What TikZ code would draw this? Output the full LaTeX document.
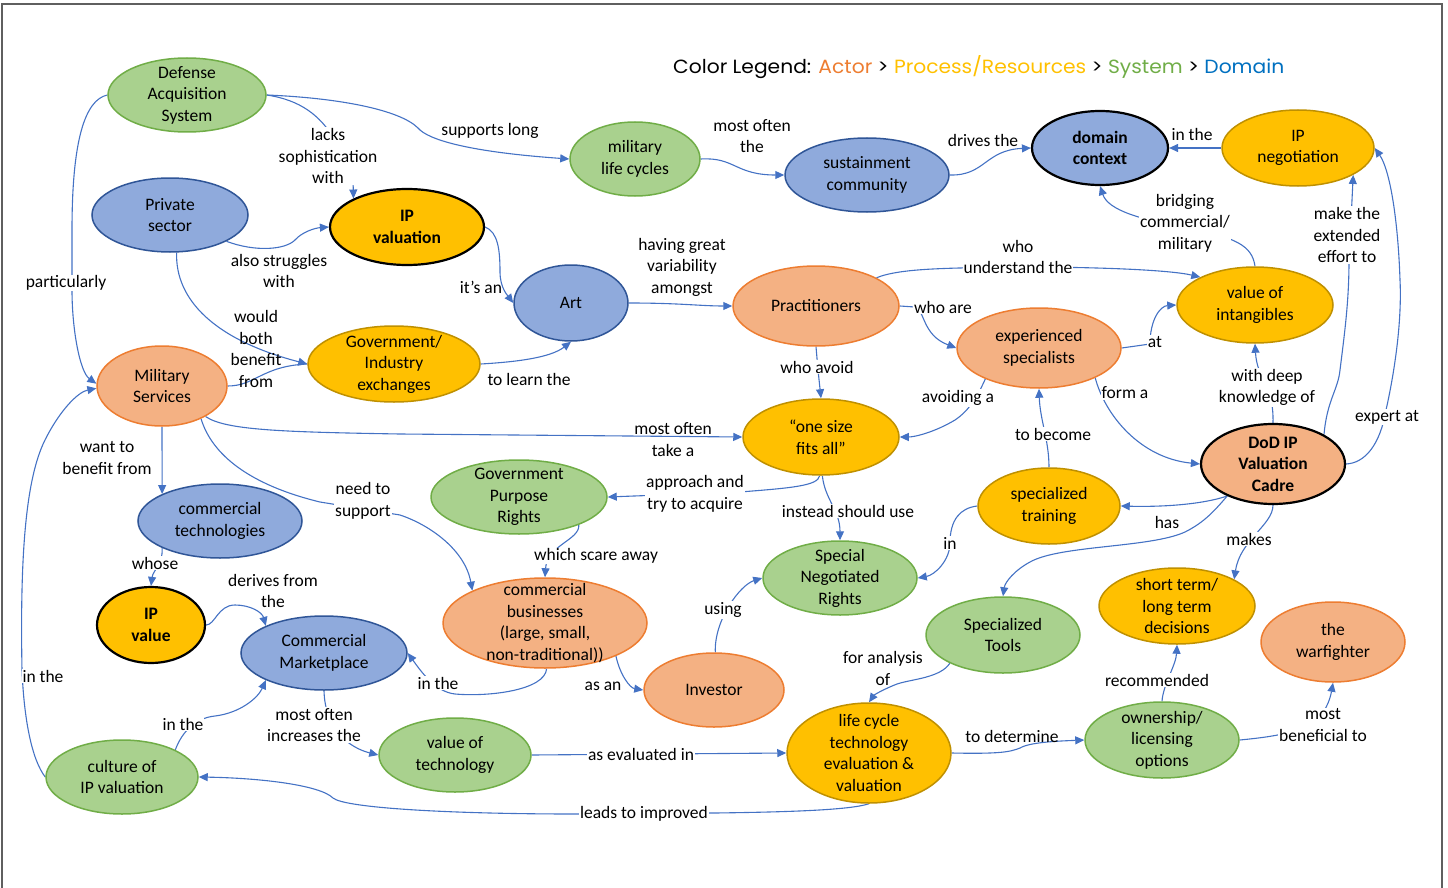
\documentclass[tikz,border=0pt]{standalone}
\usepackage{fontspec}
\setmainfont{Carlito}
\newfontfamily\legfont{Poppins}
\usetikzlibrary{shapes.geometric,arrows.meta,calc}
\definecolor{gfill}{HTML}{A9D18E}
\definecolor{gdraw}{HTML}{70AD47}
\definecolor{bfill}{HTML}{8FAADC}
\definecolor{bdraw}{HTML}{2F5597}
\definecolor{ofill}{HTML}{F4B183}
\definecolor{odraw}{HTML}{ED7D31}
\definecolor{yfill}{HTML}{FFC000}
\definecolor{ydraw}{HTML}{BF9000}
\definecolor{eblue}{HTML}{4472C4}
\definecolor{lorange}{HTML}{ED7D31}
\definecolor{lyellow}{HTML}{FFC000}
\definecolor{lgreen}{HTML}{70AD47}
\definecolor{lblue}{HTML}{0070C0}
\definecolor{framecol}{HTML}{5F5F5F}
\pgfdeclarelayer{background}
\pgfsetlayers{background,main}
\newcommand\mkell[7]{%
  \node[ellipse, #6, minimum width=#4*2pt, minimum height=#5*2pt, inner sep=0pt] (#1) at (#2,#3) {};
  \node[ntxt] (#1-t) at (#1.center) {#7};
}
\newcommand\mkellb[7]{%
  \node[ellipse, #6, minimum width=#4*2pt, minimum height=#5*2pt, inner sep=0pt] (#1) at (#2,#3) {};
  \node[ntxtb] (#1-t) at (#1.center) {#7};
}
\begin{document}
\begin{tikzpicture}[x=1pt,y=-1pt,
  ntxt/.style={font=\fontsize{17.5}{21.5}\selectfont, align=center, inner sep=0pt},
  ntxtb/.style={font=\fontsize{17.5}{21.5}\selectfont\bfseries, align=center, inner sep=0pt},
  lbl/.style={font=\fontsize{17.5}{21.5}\selectfont, align=center, inner sep=1pt},
  lblw/.style={lbl, fill=white},
  cgreen/.style={draw=gdraw, fill=gfill, line width=1.5pt},
  cblue/.style={draw=bdraw, fill=bfill, line width=1.5pt},
  corange/.style={draw=odraw, fill=ofill, line width=1.5pt},
  cyellow/.style={draw=ydraw, fill=yfill, line width=1.5pt},
  kyellow/.style={draw=black, fill=yfill, line width=2.2pt},
  kblue/.style={draw=black, fill=bfill, line width=2.2pt},
  korange/.style={draw=black, fill=ofill, line width=2.2pt},
  edge/.style={draw=eblue, line width=1.1pt},
  arr/.style={edge, -{Triangle[length=9pt,width=8pt]}}
]
\useasboundingbox (0,0) rectangle (1448,888);
\draw[framecol, line width=2.5pt] (2,888) -- (2,4) -- (1442,4) -- (1442,888);

\node[anchor=base west, inner sep=0pt] (legend) at (673,74) {\resizebox{611pt}{18pt}{\legfont Color Legend: \textcolor{lorange}{Actor} > \textcolor{lyellow}{Process/Resources} > \textcolor{lgreen}{System} > \textcolor{lblue}{Domain}}};

\mkell{das}{187}{95}{79}{37}{cgreen}{Defense\\Acquisition\\System}
\mkell{ps}{170}{215}{78}{37}{cblue}{Private\\sector}
\mkellb{ipv}{407}{227}{77}{38}{kyellow}{IP\\valuation}
\mkell{mlc}{635}{159}{65}{37}{cgreen}{military\\life cycles}
\mkell{sc}{867}{175}{82}{37}{cblue}{sustainment\\community}
\mkellb{dc}{1100}{148}{68}{37}{kblue}{domain\\context}
\mkell{ipn}{1298}{148}{76}{38}{cyellow}{IP\\negotiation}
\mkell{art}{571}{303}{57}{38}{cblue}{Art}
\mkell{pr}{816}{306}{83}{40}{corange}{Practitioners}
\mkell{voi}{1255}{305}{78}{38}{cyellow}{value of\\intangibles}
\mkell{es}{1039}{348}{82}{40}{corange}{experienced\\specialists}
\mkell{gie}{394}{364}{86}{38}{cyellow}{Government/\\Industry\\exchanges}
\mkell{ms}{162}{386}{65}{40}{corange}{Military\\Services}
\mkell{osfa}{821}{437}{78}{38}{cyellow}{“one size\\fits all”}
\mkellb{cad}{1273}{464}{72}{40}{korange}{DoD IP\\Valuation\\Cadre}
\mkell{st}{1049}{506}{71}{38}{cyellow}{specialized\\training}
\mkell{gpr}{519}{497}{88}{37}{cgreen}{Government\\Purpose\\Rights}
\mkell{ct}{220}{521}{82}{37}{cblue}{commercial\\technologies}
\mkell{snr}{840}{578}{77}{37}{cgreen}{Special\\Negotiated\\Rights}
\mkell{cb}{545}{623}{102}{45}{corange}{commercial\\businesses\\(large, small,\\non-traditional))}
\mkellb{ipvv}{151}{625}{54}{38}{kyellow}{IP\\value}
\mkell{cm}{324}{653}{83}{37}{cblue}{Commercial\\Marketplace}
\mkell{stl}{1177}{606}{78}{38}{cyellow}{short term/\\long term\\decisions}
\mkell{sto}{1003}{635}{77}{38}{cgreen}{Specialized\\Tools}
\mkell{tw}{1333}{642}{72}{40}{corange}{the\\warfighter}
\mkell{inv}{714}{690}{70}{37}{corange}{Investor}
\mkell{olo}{1162}{740}{77}{38}{cgreen}{ownership/\\licensing\\options}
\mkell{lcte}{869}{753}{82}{50}{cyellow}{life cycle\\technology\\evaluation \&\\valuation}
\mkell{vot}{455}{755}{76}{37}{cgreen}{value of\\technology}
\mkell{cipv}{122}{777}{76}{37}{cgreen}{culture of\\IP valuation}

\node[lbl] (l1) at (490,131) {supports long};
\node[lblw] (l2) at (328,156) {lacks\\sophistication\\with};
\node[lblw] (l3) at (66,283) {particularly};
\node[lbl] (l4) at (279,271) {also struggles\\with};
\node[lbl] (l5) at (256,349) {would\\both\\benefit\\from};
\node[lbl] (l7) at (481,287) {it’s an};
\node[lbl] (l8) at (529,379) {to learn the};
\node[lbl] (l9) at (682,267) {having great\\variability\\amongst};
\node[lbl] (l10) at (752,136) {most often\\the};
\node[lbl] (l11) at (983,140) {drives the};
\node[lbl] (l12) at (1192,134) {in the};
\node[lblw] (l13) at (1185,223) {bridging\\commercial/\\military};
\node[lblw] (l14) at (1018,257) {who\\understand the};
\node[lblw] (l15) at (943,307) {who are};
\node[lblw] (l16) at (1155,342) {at};
\node[lblw] (l17) at (817,367) {who avoid};
\node[lblw] (l18) at (958,398) {avoiding a};
\node[lbl] (l19) at (673,439.5) {most often\\take a};
\node[lbl] (l20) at (107,458) {want to\\benefit from};
\node[lblw] (l21) at (363,501) {need to\\support};
\node[lblw] (l22) at (695,494) {approach and\\try to acquire};
\node[lblw] (l23) at (848,511) {instead should use};
\node[lblw] (l24) at (596,556) {which scare away};
\node[lblw] (l25) at (155,563) {whose};
\node[lbl] (l26) at (273,591) {derives from\\the};
\node[lblw] (l27) at (438,683) {in the};
\node[lbl] (l28) at (603,686) {as an};
\node[lblw] (l29) at (723,610) {using};
\node[lblw] (l30) at (950,543) {in};
\node[lblw] (l31) at (1053,434) {to become};
\node[lblw] (l32) at (1125,393) {form a};
\node[lblw] (l33) at (1267,387.5) {with deep\\knowledge of};
\node[lblw] (l34) at (1347,235) {make the\\extended\\effort to};
\node[lblw] (l35) at (1387,417) {expert at};
\node[lblw] (l36) at (1167,522) {has};
\node[lblw] (l38) at (1249,539) {makes};
\node[lbl] (l39) at (883,668.5) {for analysis\\of};
\node[lblw] (l40) at (641,754) {as evaluated in};
\node[lblw] (l41) at (314,725) {most often\\increases the};
\node[lblw] (l42) at (183,724) {in the};
\node[lblw] (l43) at (43,676) {in the};
\node[lblw] (l44) at (644,814) {leads to improved};
\node[lbl] (l45) at (1012,736) {to determine};
\node[lblw] (l46) at (1157,680) {recommended};
\node[lblw] (l47) at (1323,725) {most\\beneficial to};

\begin{pgfonlayer}{background}
\draw[arr] (das.east) .. controls (340,98) and (400,110) .. (418,128) .. controls (428,140) and (470,152) .. (mlc.west);
\draw[arr] (das.east) .. controls (300,100) and (320,115) .. (335,140) -- (353,178) -- (ipv.152);
\draw[arr] (das.west) .. controls (85,100) and (72,140) .. (72,230) -- (72,290) .. controls (72,330) and (80,372) .. (ms.178);
\draw[arr] (ps.335) .. controls (255,252) and (285,250) .. (295,240) .. controls (302,232) and (315,228) .. (ipv.west);
\draw[arr] (ps.280) .. controls (175,300) and (215,340) .. (gie.west);
\draw[edge] (ms.east) .. controls (255,386) and (262,366) .. (gie.west);
\draw[arr] (ipv.east) .. controls (498,232) and (500,250) .. (500,272) .. controls (500,288) and (508,296) .. (art.west);
\draw[arr] (gie.east) .. controls (515,362) and (550,358) .. (art.south);
\draw[arr] (art.east) .. controls (680,303) and (700,306) .. (pr.west);
\draw[arr] (mlc.east) .. controls (735,157) and (735,175) .. (sc.west);
\draw[arr] (sc.east) .. controls (985,176) and (985,150) .. (dc.west);
\draw[arr] (ipn.west) -- (dc.east);
\draw[arr] (voi.north) .. controls (1252,245) and (1235,238) .. (1190,228) .. controls (1140,220) and (1108,210) .. (dc.south);
\draw[arr] (pr.25) .. controls (900,268) and (950,268) .. (1020,267) .. controls (1100,267) and (1170,270) .. (voi.153);
\draw[arr] (pr.east) -- (915,307) .. controls (925,310) and (922,335) .. (es.west);
\draw[arr] (es.east) -- (1150,344) .. controls (1150,320) and (1160,306) .. (voi.west);
\draw[arr] (pr.south) -- (818,370) -- (osfa.north);
\draw[arr] (es.210) .. controls (978,395) and (970,410) .. (955,420) .. controls (935,432) and (915,437) .. (osfa.east);
\draw[arr] (ms.325) .. controls (225,430) and (280,432) .. (400,434) -- (osfa.west);
\draw[arr] (ms.south) -- (ct.155);
\draw[arr] (ms.320) .. controls (212,455) and (250,485) .. (320,502) -- (400,515) .. controls (430,525) and (465,550) .. (cb.156);
\draw[arr] (osfa.268) .. controls (818,486) and (790,488) .. (740,492) -- (gpr.east);
\draw[arr] (osfa.272) .. controls (825,500) and (840,510) .. (snr.north);
\draw[arr] (gpr.335) .. controls (580,540) and (547,545) .. (cb.north);
\draw[arr] (ct.205) .. controls (163,565) and (153,570) .. (ipvv.north);
\draw[arr] (ipvv.east) .. controls (215,625) and (218,605) .. (235,605) .. controls (250,605) and (262,612) .. (cm.155);
\draw[arr] (cb.272) .. controls (545,690) and (490,697) .. (455,694) .. controls (435,692) and (420,670) .. (cm.east);
\draw[arr] (cb.335) .. controls (620,675) and (630,688) .. (inv.west);
\draw[arr] (inv.88) .. controls (714,620) and (740,585) .. (snr.west);
\draw[arr] (st.west) .. controls (960,508) and (950,520) .. (950,543) .. controls (950,560) and (935,575) .. (snr.east);
\draw[arr] (st.north) .. controls (1049,440) and (1040,420) .. (es.south);
\draw[arr] (es.332) .. controls (1105,415) and (1140,458) .. (cad.west);
\draw[arr] (cad.north) .. controls (1274,385) and (1257,380) .. (voi.south);
\draw[arr] (cad.30) .. controls (1327,400) and (1338,390) .. (1340,370) .. controls (1345,330) and (1349,300) .. (1349,260) -- (1352,200) -- (ipn.334);
\draw[arr] (cad.east) .. controls (1365,463) and (1380,445) .. (1386,410) .. controls (1395,370) and (1402,320) .. (1400,280) .. controls (1398,220) and (1390,170) .. (ipn.east);
\draw[arr] (cad.215) .. controls (1200,505) and (1160,507) .. (st.east);
\draw[arr] (cad.215) .. controls (1215,510) and (1205,522) .. (1185,532) .. controls (1150,548) and (1060,545) .. (1030,562) .. controls (1015,570) and (1005,582) .. (sto.north);
\draw[arr] (cad.south) .. controls (1273,525) and (1240,540) .. (stl.25);
\draw[arr] (sto.208) .. controls (940,678) and (912,679) .. (897,684) .. controls (884,689) and (874,695) .. (lcte.north);
\draw[arr] (vot.east) -- (lcte.west);
\draw[arr] (cm.south) .. controls (325,730) and (350,748) .. (vot.west);
\draw[arr] (cipv.27) .. controls (182,732) and (195,718) .. (215,716) .. controls (240,713) and (258,698) .. (cm.205);
\draw[arr] (cipv.west) .. controls (32,760) and (24,720) .. (22,670) .. controls (20,560) and (25,480) .. (45,440) .. controls (60,410) and (78,392) .. (ms.182);
\draw[arr] (lcte.south) .. controls (850,810) and (790,812) .. (715,813) -- (575,814) .. controls (450,814) and (345,808) .. (333,798) .. controls (320,785) and (260,778) .. (cipv.east);
\draw[arr] (lcte.east) .. controls (1000,754) and (1010,752) .. (1020,748) .. controls (1030,742) and (1060,741) .. (olo.west);
\draw[arr] (olo.north) .. controls (1163,685) and (1176,665) .. (stl.south);
\draw[arr] (olo.east) .. controls (1260,738) and (1290,735) .. (1310,725) .. controls (1325,715) and (1330,700) .. (tw.south);
\end{pgfonlayer}
\end{tikzpicture}
\end{document}
